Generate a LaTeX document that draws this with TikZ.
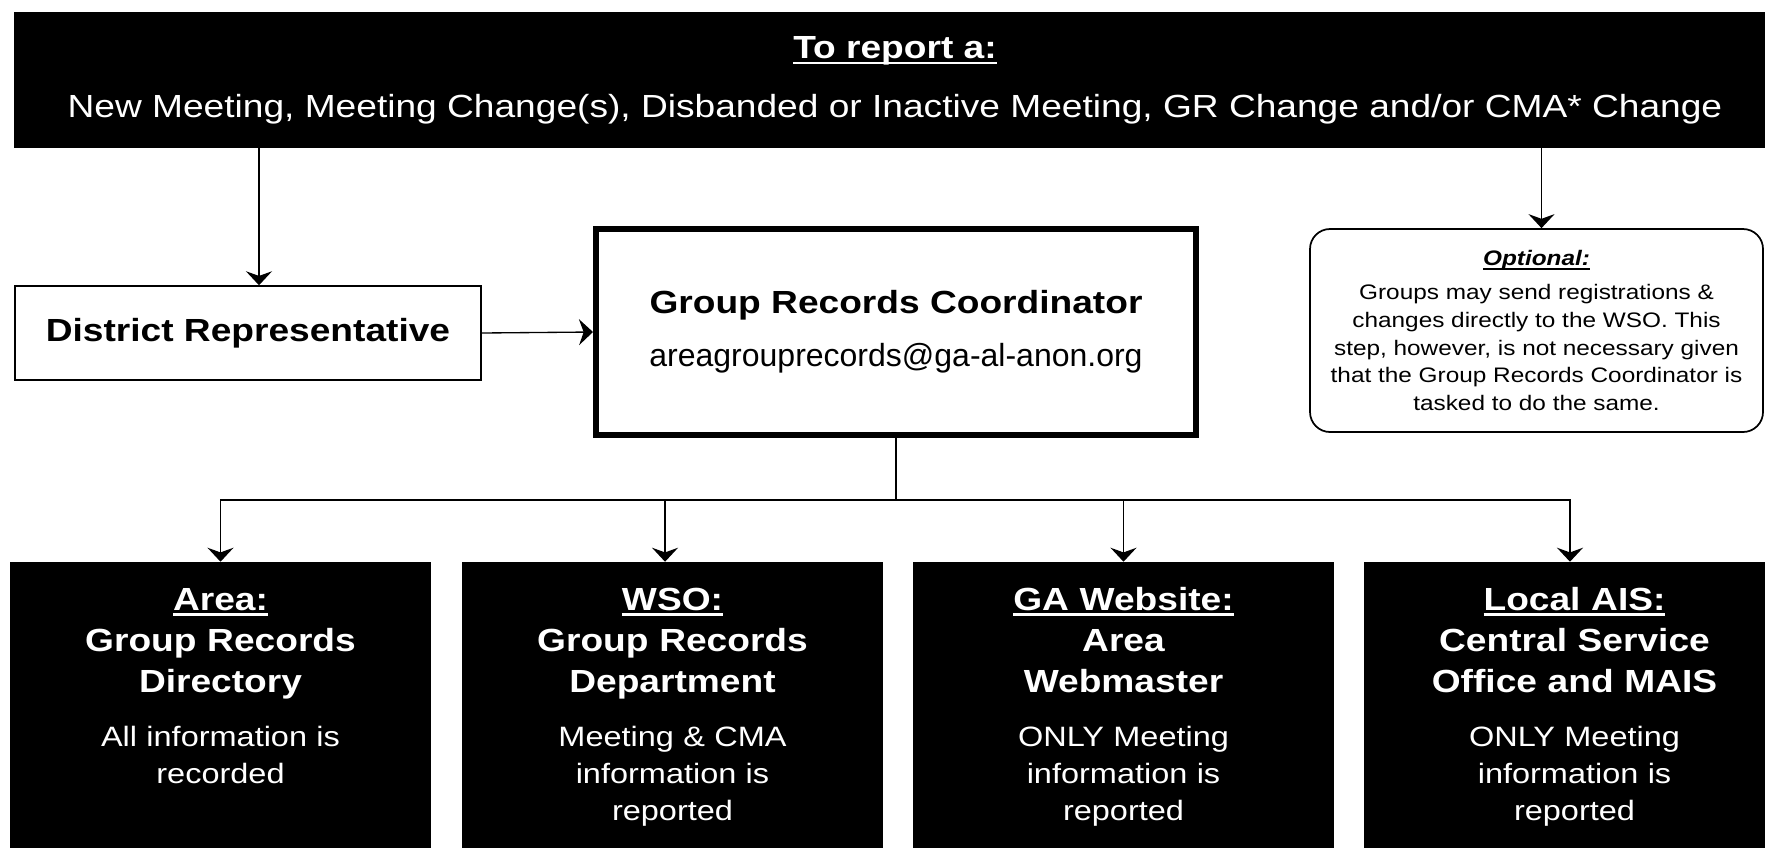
\documentclass[tikz,border=0pt]{standalone}
\usepackage{fontspec}
\setmainfont{Liberation Sans}[FakeStretch=1.16]
\newfontfamily\plainfont{Liberation Sans}
\usetikzlibrary{arrows.meta}
\newcommand\undertext[1]{\setbox0\hbox{#1}\rlap{\rule[-0.37ex]{\wd0}{0.17ex}}\box0}

\begin{document}
\begin{tikzpicture}[
    x=0.75pt, y=-0.75pt,
    banner/.style={fill=black, text=white, align=center, minimum width=1321.5pt, minimum height=102pt, inner sep=0pt, font=\fontsize{24}{44.25}\selectfont},
    box/.style={draw, line width=1.1pt, minimum width=349.5pt, minimum height=70.5pt, font=\fontsize{24}{30}\selectfont\bfseries},
    coord/.style={draw, line width=4.5pt, align=center, minimum width=450pt, minimum height=154.5pt, font=\fontsize{24}{39.75}\selectfont},
    note/.style={draw, line width=1.3pt, rounded corners=15pt, align=center, minimum width=339.75pt, minimum height=152.25pt, font=\fontsize{15.75}{20.7}\selectfont},
    outlet/.style={fill=black, minimum width=315.75pt, minimum height=223.5pt, inner sep=0pt},
    outhead/.style={anchor=base, text=white, text width=285pt, align=center, inner sep=0pt, font=\fontsize{24}{31.1}\selectfont\bfseries},
    outbody/.style={anchor=base, text=white, text width=285pt, align=center, inner sep=0pt, font=\fontsize{21}{27.75}\selectfont},
    flow/.style={-{Stealth[length=10.5pt, width=19.5pt, inset=3.5pt]}, line width=1pt}
]
\useasboundingbox (0,0) rectangle (1765,847);
\clip (0,0) rectangle (1765,847);

\node[banner] (report) at (895,80) {{\bfseries\undertext{To report a:}}\\New Meeting, Meeting Change(s), Disbanded or Inactive Meeting, GR Change and/or CMA* Change};

\node[box] (dr) at (248,333) {District Representative};
\node[coord] (grc) at (896,332) {\textbf{Group Records Coordinator}\\{\plainfont areagrouprecords@ga-al-anon.org}};
\node[note] (optional) at (1536.5,330.5) {{\bfseries\itshape\undertext{Optional:}}\\[5pt]Groups may send registrations \&\\changes directly to the WSO. This\\step, however, is not necessary given\\that the Group Records Coordinator is\\tasked to do the same.};

\node[outlet] (area) at (220.5,711) {};
\node[outlet] (wso) at (672.5,711) {};
\node[outlet] (web) at (1123.5,711) {};
\node[outlet] (ais) at (1574.5,711) {};

\node[outhead] (areahead) at (220.5,610) {\undertext{Area:}\\Group Records\\Directory};
\node[outhead] (wsohead) at (672.5,610) {\undertext{WSO:}\\Group Records\\Department};
\node[outhead] (webhead) at (1123.5,610) {\undertext{GA Website:}\\Area\\Webmaster};
\node[outhead] (aishead) at (1574.5,610) {\undertext{Local AIS:}\\Central Service\\Office and MAIS};

\node[outbody] (areabody) at (220.5,746.7) {All information is\\recorded};
\node[outbody] (wsobody) at (672.5,746.7) {Meeting \& CMA\\information is\\reported};
\node[outbody] (webbody) at (1123.5,746.7) {ONLY Meeting\\information is\\reported};
\node[outbody] (aisbody) at (1574.5,746.7) {ONLY Meeting\\information is\\reported};

\coordinate (drin) at ([xshift=8.25pt]dr.north);
\coordinate (optin) at ([xshift=3.75pt]optional.north);
\coordinate (bus) at (896,500);
\coordinate (areatop) at (area.north);
\coordinate (wsotop) at ([xshift=-5.6pt]wso.north);
\coordinate (webtop) at (web.north);
\coordinate (aistop) at ([xshift=-3.4pt]ais.north);

\draw[flow] (drin |- report.south) -- (drin);
\draw[flow] (optin |- report.south) -- (optin);
\draw[flow] (dr.east) -- (grc.west);
\draw[line width=1pt] (grc.south) -- (bus);
\foreach \t in {area,wso,web,ais}
    \draw[flow] (bus) -| (\t top);
\end{tikzpicture}
\end{document}
